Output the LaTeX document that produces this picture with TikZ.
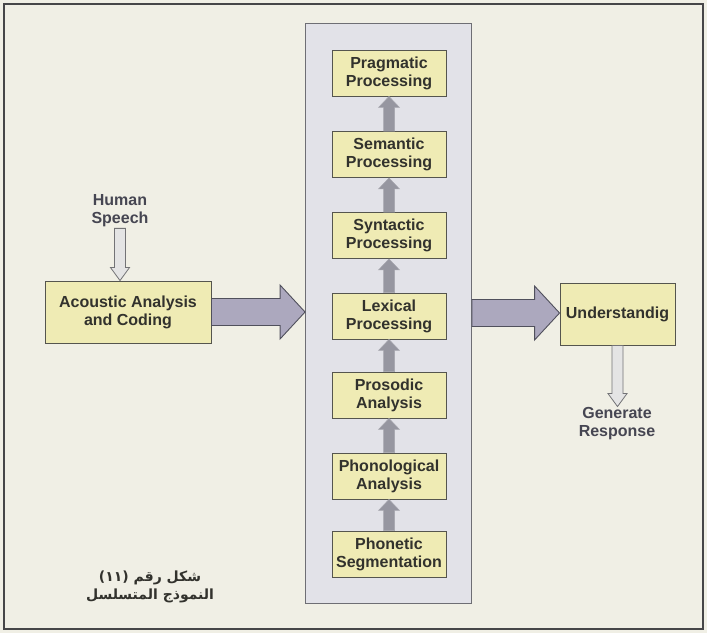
\documentclass[tikz,border=0pt]{standalone}
\usepackage{fontspec}
\setmainfont{Liberation Sans}
\newfontfamily\arabicfont[Script=Arabic]{DejaVu Sans}
\TeXXeTstate=1
\usetikzlibrary{calc}
\definecolor{bgc}{RGB}{240,239,229}
\definecolor{framec}{RGB}{70,70,72}
\definecolor{panelc}{RGB}{226,226,232}
\definecolor{panelb}{RGB}{110,110,116}
\definecolor{boxc}{RGB}{239,235,180}
\definecolor{boxb}{RGB}{85,85,78}
\definecolor{bigf}{RGB}{172,168,190}
\definecolor{bigb}{RGB}{80,80,92}
\definecolor{colarr}{RGB}{150,150,160}
\definecolor{lightf}{RGB}{228,228,228}
\definecolor{lightb}{RGB}{115,115,118}
\definecolor{txt}{RGB}{50,50,45}
\definecolor{txtb}{RGB}{70,70,82}
\tikzset{
  stagebox/.style={draw=boxb, line width=0.9pt, fill=boxc, minimum width=114pt, minimum height=46pt,
    inner sep=0pt, align=center, text=txt, font=\fontsize{16}{18}\selectfont\bfseries},
  plainlbl/.style={align=center, text=txtb, inner sep=1pt, font=\fontsize{16}{18}\selectfont\bfseries},
  bigarr/.style={draw=bigb, line width=0.9pt, fill=bigf, line join=miter},
  colarrow/.style={draw=colarr!85!white, line width=0.5pt, fill=colarr},
  lightarr/.style={draw=lightb, line width=0.8pt, fill=lightf},
}
\newcommand{\vup}[2]{\draw[colarrow] let \p1=(#1.north), \p2=(#2.south) in
  (\x1-5.5pt,\y1) -- (\x1-5.5pt,\y2-11pt) -- (\x1-10.5pt,\y2-11pt) -- (\x1,\y2)
  -- (\x1+10.5pt,\y2-11pt) -- (\x1+5.5pt,\y2-11pt) -- (\x1+5.5pt,\y1) -- cycle;}
\newcommand{\vdown}[2]{\draw[lightarr] let \p1=(#1.south), \p2=(#2.north) in
  (\x1-5.5pt,\y1) -- (\x1-5.5pt,\y2+13pt) -- (\x1-9.5pt,\y2+13pt) -- (\x1,\y2)
  -- (\x1+9.5pt,\y2+13pt) -- (\x1+5.5pt,\y2+13pt) -- (\x1+5.5pt,\y1) -- cycle;}
\newcommand{\hright}[2]{\draw[bigarr] let \p1=(#1.east), \p2=(#2.west) in
  (\x1,\y1+13.5pt) -- (\x2-25pt,\y1+13.5pt) -- (\x2-25pt,\y1+27pt) -- (\x2,\y1)
  -- (\x2-25pt,\y1-27pt) -- (\x2-25pt,\y1-13.5pt) -- (\x1,\y1-13.5pt) -- cycle;}
\begin{document}
\begin{tikzpicture}[x=1pt,y=-1pt]
\useasboundingbox (0,0) rectangle (707,633);
\fill[bgc] (0,0) rectangle (707,633);
\draw[framec, line width=2pt] (4,4) rectangle (703,629);
% central panel
\node[draw=panelb, line width=0.9pt, fill=panelc, minimum width=166pt, minimum height=580pt, inner sep=0pt]
  (panel) at (388.5,313) {};
% stage boxes
\node[stagebox] (prag) at (389,73) {Pragmatic\\Processing};
\node[stagebox] (sem) at (389,154.5) {Semantic\\Processing};
\node[stagebox] (syn) at (389,235.5) {Syntactic\\Processing};
\node[stagebox] (lex) at (389,316) {Lexical\\Processing};
\node[stagebox] (pros) at (389,395) {Prosodic\\Analysis};
\node[stagebox] (phon) at (389,476) {Phonological\\Analysis};
\node[stagebox] (phnt) at (389,554) {Phonetic\\Segmentation};
\vup{sem}{prag}
\vup{syn}{sem}
\vup{lex}{syn}
\vup{pros}{lex}
\vup{phon}{pros}
\vup{phnt}{phon}
% left side
\node[plainlbl] (human) at (120,211) {Human\\Speech};
\node[stagebox, minimum width=166pt, minimum height=62pt] (ac) at (128,312) {Acoustic Analysis\\and Coding};
\vdown{human}{ac}
\hright{ac}{panel}
% right side
\node[stagebox, minimum width=115pt, minimum height=62pt] (und) at (617.5,314) {Understandig};
\hright{panel}{und}
\node[plainlbl] (gen) at (617,424) {Generate\\Response};
\vdown{und}{gen}
% caption
\node[align=center, text=txt, inner sep=0pt, font=\arabicfont\bfseries\fontsize{14}{18}\selectfont] (cap) at (150,587)
  {\beginR شكل رقم (١١)\endR\\\beginR النموذج المتسلسل\endR};
\end{tikzpicture}
\end{document}
